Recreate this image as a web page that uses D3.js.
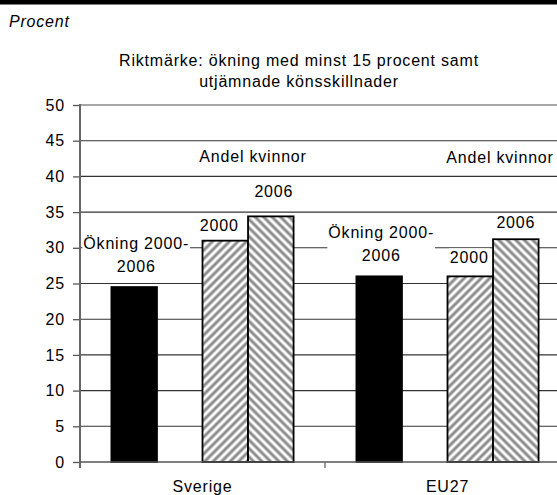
<!DOCTYPE html>
<html>
<head>
<meta charset="utf-8">
<script src="https://cdnjs.cloudflare.com/ajax/libs/d3/7.8.5/d3.min.js"></script>
<style>
  body { margin: 0; background: #fff; }
  text { font-family: "Liberation Sans", Arial, sans-serif; font-size: 16px; fill: #000; letter-spacing: 0.8px; }
</style>
</head>
<body>
<svg id="chart"></svg>
<script>
// data
var categories = ["Sverige", "EU27"];
var slots = ["okning", "gap", "y2000", "y2006"]; // "gap" is an empty slot
var okning = [24.5, 26.0];
var andel2000 = [31.0, 26.0];
var andel2006 = [34.4, 31.2];
var yTicks = [0, 5, 10, 15, 20, 25, 30, 35, 40, 45, 50];
var titleLines = ["Riktmärke: ökning med minst 15 procent samt", "utjämnade könsskillnader"];
var unitLabel = "Procent";
var okningText = ["Ökning 2000-", "2006"];
var andelText = "Andel kvinnor";
var yearText = ["2000", "2006"];

var width = 557, height = 495;
var svg = d3.select("#chart").attr("width", width).attr("height", height);

svg.append("rect").attr("width", width).attr("height", height).attr("fill", "#fff");
svg.append("rect").attr("x", 0).attr("y", 0).attr("width", width).attr("height", 4.5).attr("fill", "#000");

// hatch patterns
var defs = svg.append("defs");
function hatch(id, angle) {
  var p = defs.append("pattern")
    .attr("id", id)
    .attr("patternUnits", "userSpaceOnUse")
    .attr("width", 6).attr("height", 6)
    .attr("patternTransform", "rotate(" + angle + ")");
  p.append("rect").attr("width", 6).attr("height", 6).attr("fill", "#fff");
  p.append("line").attr("x1", 3).attr("y1", -1).attr("x2", 3).attr("y2", 7)
    .attr("stroke", "#8c8c8c").attr("stroke-width", 3);
}
hatch("h2000", 45);
hatch("h2006", -45);

// scales
var x = d3.scaleBand().domain(categories).range([80, 570]);
var inner = d3.scaleBand().domain(slots).range([0, x.bandwidth()]).paddingOuter(0.69);
var y = d3.scaleLinear().domain([0, 50]).range([462, 105]);

// grid
svg.append("g").selectAll("line")
  .data(yTicks.filter(function(d) { return d > 0 && d < 50; }))
  .enter().append("line")
  .attr("x1", 80).attr("x2", 570)
  .attr("y1", function(d) { return y(d); }).attr("y2", function(d) { return y(d); })
  .attr("stroke", "#333").attr("stroke-width", 1.1);
svg.append("line").attr("x1", 80).attr("x2", 570).attr("y1", y(50)).attr("y2", y(50))
  .attr("stroke", "#888").attr("stroke-width", 1.6);

// y axis
var yAxis = d3.axisLeft(y).tickValues(yTicks).tickSize(7).tickPadding(8);
var ga = svg.append("g").attr("transform", "translate(80,0)").call(yAxis);
ga.select(".domain").remove();
ga.selectAll(".tick line").attr("stroke", "#555").attr("stroke-width", 1.3);
ga.selectAll(".tick text").attr("font-size", null).attr("font-family", null).attr("fill", "#000");
svg.append("line").attr("x1", 80).attr("x2", 80).attr("y1", y(50) - 1).attr("y2", 468)
  .attr("stroke", "#666").attr("stroke-width", 2);

// bars
var rows = categories.map(function(c, i) {
  return { cat: c, okning: okning[i], y2000: andel2000[i], y2006: andel2006[i] };
});
var fills = { okning: "#000", y2000: "url(#h2000)", y2006: "url(#h2006)" };
var bars = [];
rows.forEach(function(r) {
  ["okning", "y2000", "y2006"].forEach(function(k) {
    bars.push({ cat: r.cat, key: k, value: r[k] });
  });
});
svg.append("g").selectAll("rect")
  .data(bars)
  .enter().append("rect")
  .attr("x", function(d) { return x(d.cat) + inner(d.key); })
  .attr("y", function(d) { return y(d.value); })
  .attr("width", inner.bandwidth())
  .attr("height", function(d) { return y(0) - y(d.value); })
  .attr("fill", function(d) { return fills[d.key]; })
  .attr("stroke", "#000")
  .attr("stroke-width", 1.8);

// x axis
svg.append("line").attr("x1", 80).attr("x2", 570).attr("y1", y(0)).attr("y2", y(0))
  .attr("stroke", "#555").attr("stroke-width", 1.5);
svg.append("line").attr("x1", x("EU27")).attr("x2", x("EU27")).attr("y1", y(0)).attr("y2", 468)
  .attr("stroke", "#666").attr("stroke-width", 1.3);
svg.append("g").selectAll("text")
  .data(categories)
  .enter().append("text")
  .attr("x", function(d) { return x(d) + x.bandwidth() / 2; })
  .attr("y", 492)
  .attr("text-anchor", "middle")
  .text(function(d) { return d; });

// labels with white box behind
function boxedLabel(lines, cx, baseline, lineGap) {
  var g = svg.append("g");
  var t = g.append("text").attr("text-anchor", "middle");
  lines.forEach(function(s, i) {
    t.append("tspan").attr("x", cx).attr("y", baseline + i * lineGap).text(s);
  });
  var b = t.node().getBBox();
  g.insert("rect", "text")
    .attr("x", b.x - 1).attr("y", b.y - 1)
    .attr("width", b.width + 2).attr("height", b.height + 1)
    .attr("fill", "#fff");
}

function barMid(cat, key) { return x(cat) + inner(key) + inner.bandwidth() / 2; }

// nudges for hand-placed labels
var nudge2000 = [[-6, -10], [-1, -13]];
var nudge2006 = [[3, -19], [0, -11]];
rows.forEach(function(r, i) {
  boxedLabel(okningText, barMid(r.cat, "okning") + 2, y(r.okning) - 38.5, 23);
  boxedLabel([yearText[0]], barMid(r.cat, "y2000") + nudge2000[i][0], y(r.y2000) + nudge2000[i][1], 0);
  boxedLabel([yearText[1]], barMid(r.cat, "y2006") + nudge2006[i][0], y(r.y2006) + nudge2006[i][1], 0);
  svg.append("text")
    .attr("x", (barMid(r.cat, "y2000") + barMid(r.cat, "y2006")) / 2 + 5 + i * 2)
    .attr("y", y(42) - 0.5 + i * 1.5)
    .attr("text-anchor", "middle")
    .text(andelText);
});

// titles
svg.append("text").attr("x", 9).attr("y", 27).style("font-style", "italic").text(unitLabel);
svg.append("g").selectAll("text")
  .data(titleLines)
  .enter().append("text")
  .attr("x", 299)
  .attr("y", function(d, i) { return 66 + i * 21; })
  .attr("text-anchor", "middle")
  .text(function(d) { return d; });
</script>
</body>
</html>
